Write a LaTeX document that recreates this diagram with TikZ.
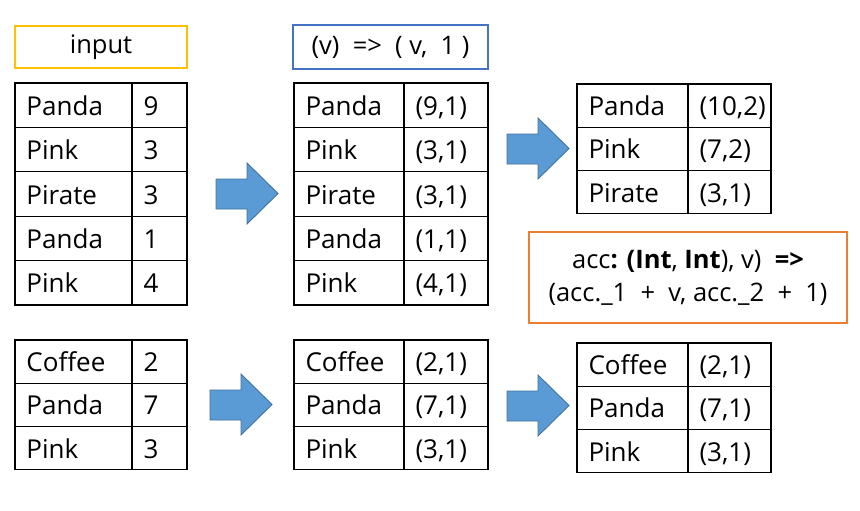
\documentclass[tikz,border=0pt]{standalone}
\usepackage{fontspec}
\setmainfont{Open Sans}
\usetikzlibrary{positioning}
\definecolor{boxyellow}{HTML}{FFC000}
\definecolor{boxblue}{HTML}{4472C4}
\definecolor{boxorange}{HTML}{ED7D31}
\definecolor{arrowfill}{HTML}{5B9BD5}
\definecolor{arrowedge}{HTML}{41719C}
\tikzset{
  cell/.style={draw, line width=1.1pt, outer sep=0pt, inner sep=0pt,
    minimum height=43.3pt, align=left, text height=20pt, text depth=0pt,
    font=\fontsize{26}{31}\selectfont, execute at begin node={\hspace*{11.5pt}}},
  tall/.style={minimum height=44.4pt},
  kl/.style={cell, text width=117pt}, vl/.style={cell, text width=55pt},
  km/.style={cell, text width=110pt}, vm/.style={cell, text width=84pt},
  kr/.style={cell, text width=111pt}, vr/.style={cell, text width=83pt},
  labelbox/.style={draw, line width=1.5pt, inner sep=0pt, align=center,
    font=\fontsize{25.5}{33}\selectfont},
  blockarrow/.style={fill=arrowfill, draw=arrowedge, line width=0.9pt, line join=miter}
}
\begin{document}
\begin{tikzpicture}[x=1pt,y=-1pt]
\useasboundingbox (0,0) rectangle (860,511);
% captions
\node[labelbox, draw=boxyellow, minimum width=172pt, minimum height=42pt] (inlabel) at (101,47) {input};
\node[labelbox, draw=boxblue, minimum width=195pt, minimum height=44pt] (maplabel) at (390.5,47) {(v)\ \ =>\ \ (\ v,\ \ 1\ )};
\node[labelbox, draw=boxorange, minimum width=318pt, minimum height=91pt] (reducelabel) at (688,277.5)
  {acc\textbf{: (Int}, \textbf{Int}), v)\ \ \textbf{=>}\\(acc.\_1\ \ +\ \ v, acc.\_2\ \ +\ \ 1)};
% input, part 1
\node[kl,tall,anchor=north west] (a1) at (15,83) {Panda}; \node[vl,tall,right=0pt of a1] (a1v) {9};
\node[kl,tall,below=0pt of a1] (a2) {Pink};   \node[vl,tall,right=0pt of a2] (a2v) {3};
\node[kl,tall,below=0pt of a2] (a3) {Pirate}; \node[vl,tall,right=0pt of a3] (a3v) {3};
\node[kl,tall,below=0pt of a3] (a4) {Panda};  \node[vl,tall,right=0pt of a4] (a4v) {1};
\node[kl,tall,below=0pt of a4] (a5) {Pink};   \node[vl,tall,right=0pt of a5] (a5v) {4};
% input, part 2
\node[kl,anchor=north west] (b1) at (15,340) {Coffee}; \node[vl,right=0pt of b1] (b1v) {2};
\node[kl,below=0pt of b1] (b2) {Panda}; \node[vl,right=0pt of b2] (b2v) {7};
\node[kl,below=0pt of b2] (b3) {Pink};  \node[vl,right=0pt of b3] (b3v) {3};
% mapped, part 1
\node[km,tall,anchor=north west] (c1) at (294,83) {Panda}; \node[vm,tall,right=0pt of c1] (c1v) {(9,1)};
\node[km,tall,below=0pt of c1] (c2) {Pink};   \node[vm,tall,right=0pt of c2] (c2v) {(3,1)};
\node[km,tall,below=0pt of c2] (c3) {Pirate}; \node[vm,tall,right=0pt of c3] (c3v) {(3,1)};
\node[km,tall,below=0pt of c3] (c4) {Panda};  \node[vm,tall,right=0pt of c4] (c4v) {(1,1)};
\node[km,tall,below=0pt of c4] (c5) {Pink};   \node[vm,tall,right=0pt of c5] (c5v) {(4,1)};
% mapped, part 2
\node[km,anchor=north west] (d1) at (294,340) {Coffee}; \node[vm,right=0pt of d1] (d1v) {(2,1)};
\node[km,below=0pt of d1] (d2) {Panda}; \node[vm,right=0pt of d2] (d2v) {(7,1)};
\node[km,below=0pt of d2] (d3) {Pink};  \node[vm,right=0pt of d3] (d3v) {(3,1)};
% reduced, part 1
\node[kr,anchor=north west] (e1) at (577,84) {Panda}; \node[vr,right=0pt of e1] (e1v) {(10,2)};
\node[kr,below=0pt of e1] (e2) {Pink};   \node[vr,right=0pt of e2] (e2v) {(7,2)};
\node[kr,below=0pt of e2] (e3) {Pirate}; \node[vr,right=0pt of e3] (e3v) {(3,1)};
% reduced, part 2
\node[kr,anchor=north west] (f1) at (577,343) {Coffee}; \node[vr,right=0pt of f1] (f1v) {(2,1)};
\node[kr,below=0pt of f1] (f2) {Panda}; \node[vr,right=0pt of f2] (f2v) {(7,1)};
\node[kr,below=0pt of f2] (f3) {Pink};  \node[vr,right=0pt of f3] (f3v) {(3,1)};
% block arrows
\draw[blockarrow] (216,179) -- ++(31,0) -- ++(0,-16) -- ++(31,30.5) -- ++(-31,30.5) -- ++(0,-15) -- ++(-31,0) -- cycle;
\draw[blockarrow] (507,134) -- ++(31,0) -- ++(0,-16) -- ++(31,30.5) -- ++(-31,30.5) -- ++(0,-15) -- ++(-31,0) -- cycle;
\draw[blockarrow] (210,390) -- ++(31,0) -- ++(0,-16) -- ++(31,30.5) -- ++(-31,30.5) -- ++(0,-15) -- ++(-31,0) -- cycle;
\draw[blockarrow] (507,391) -- ++(31,0) -- ++(0,-16) -- ++(31,30.5) -- ++(-31,30.5) -- ++(0,-15) -- ++(-31,0) -- cycle;
\end{tikzpicture}
\end{document}
